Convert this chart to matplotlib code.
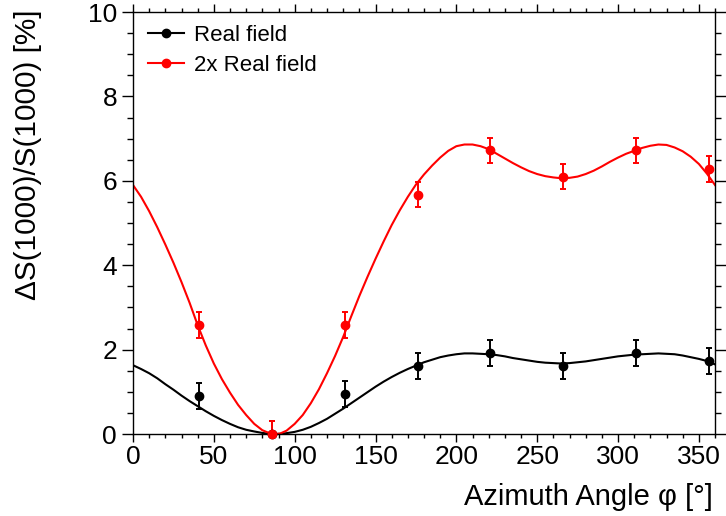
import numpy as np
import matplotlib
matplotlib.use('Agg')
import matplotlib.pyplot as plt
from matplotlib.lines import Line2D
from matplotlib.ticker import MultipleLocator

plt.rcParams['font.family'] = ['Liberation Sans', 'DejaVu Sans']

# measured points
phi_pts = [41, 86, 131, 176, 221, 266, 311, 356]
real_pts = [0.90, 0.00, 0.95, 1.61, 1.92, 1.61, 1.92, 1.73]
real_err = [0.30, 0.30, 0.30, 0.30, 0.30, 0.30, 0.30, 0.30]
dbl_pts = [2.58, 0.00, 2.58, 5.67, 6.72, 6.10, 6.72, 6.28]
dbl_err = [0.30, 0.30, 0.30, 0.30, 0.30, 0.30, 0.30, 0.30]

# fitted curves
phi_fit = [0, 5, 10, 15, 20, 25, 30, 35, 40, 45, 50, 55, 60, 65, 70, 75, 80, 85, 88,
           91, 95, 100, 105, 110, 115, 120, 125, 130, 135, 140, 145, 150, 155, 160,
           165, 170, 175, 180, 185, 190, 195, 200, 205, 210, 215, 220, 225, 230, 235,
           240, 245, 250, 255, 260, 265, 270, 275, 280, 285, 290, 295, 300, 305, 310,
           315, 320, 325, 330, 335, 340, 345, 350, 355, 360]
real_fit = [1.63, 1.54, 1.44, 1.32, 1.18, 1.05, 0.91, 0.78, 0.66, 0.54, 0.43, 0.33,
            0.24, 0.16, 0.10, 0.06, 0.025, 0.005, 0.0,
            0.005, 0.02, 0.05, 0.10, 0.17, 0.26, 0.36, 0.48, 0.60, 0.73, 0.86, 0.99,
            1.12, 1.24, 1.35, 1.45, 1.54, 1.62, 1.70, 1.76, 1.82, 1.86, 1.89, 1.91,
            1.91, 1.90, 1.89, 1.87, 1.84, 1.80, 1.77, 1.74, 1.71, 1.69, 1.68, 1.67,
            1.68, 1.70, 1.72, 1.75, 1.78, 1.81, 1.84, 1.86, 1.88, 1.89, 1.90, 1.91,
            1.90, 1.89, 1.86, 1.82, 1.78, 1.73, 1.65]
dbl_fit = [5.90, 5.62, 5.28, 4.90, 4.49, 4.06, 3.60, 3.11, 2.58, 2.10, 1.67, 1.30,
           0.98, 0.69, 0.45, 0.24, 0.09, 0.01, 0.0,
           0.01, 0.08, 0.24, 0.45, 0.73, 1.06, 1.44, 1.85, 2.30, 2.79, 3.27, 3.72,
           4.15, 4.56, 4.95, 5.30, 5.62, 5.91, 6.15, 6.36, 6.55, 6.71, 6.82, 6.86,
           6.86, 6.82, 6.75, 6.64, 6.53, 6.42, 6.32, 6.23, 6.16, 6.11, 6.08, 6.06,
           6.07, 6.10, 6.16, 6.24, 6.34, 6.45, 6.55, 6.64, 6.71, 6.78, 6.83, 6.86,
           6.85, 6.79, 6.70, 6.57, 6.40, 6.17, 5.90]

labels = ['Real field', '2x Real field']
colors = ['black', 'red']

fig = plt.figure(figsize=(7.26, 5.16), dpi=100)
ax = fig.add_axes([133/726, 1-434/516, 582/726, 422/516])

series = [(real_pts, real_err, real_fit), (dbl_pts, dbl_err, dbl_fit)]
for (pts, err, fit), c in zip(series, colors):
    ax.plot(phi_fit, fit, color=c, lw=1.5, zorder=2, solid_joinstyle='round')
    ax.errorbar(phi_pts, pts, yerr=err, fmt='none', ecolor=c, elinewidth=1.4,
                capsize=2.2, capthick=1.4, zorder=3)
    ax.plot(phi_pts, pts, 'o', color=c, ms=6, clip_on=False, zorder=4)

ax.set_xlim(0, 360)
ax.set_ylim(0, 10)
ax.xaxis.set_major_locator(MultipleLocator(50))
ax.xaxis.set_minor_locator(MultipleLocator(10))
ax.yaxis.set_major_locator(MultipleLocator(2))
ax.yaxis.set_minor_locator(MultipleLocator(0.5))

for s in ax.spines.values():
    s.set_linewidth(1.0)
ax.tick_params(axis='both', which='both', direction='out', top=True, right=True,
               width=1.0, labelsize=19)
ax.tick_params(axis='x', which='major', length=5.5, pad=2.5)
ax.tick_params(axis='x', which='minor', length=3)
ax.tick_params(axis='y', which='major', length=8, pad=3.5)
ax.tick_params(axis='y', which='minor', length=4.2)

fig.text(713/726, 1-505/516, 'Azimuth Angle φ [°]', ha='right', va='baseline', fontsize=21)
fig.text(28/726, 1-10/516, 'ΔS(1000)/S(1000) [%]', ha='center', va='top',
         rotation=90, fontsize=21.4)

handles = [Line2D([], [], color=c, lw=1.5, marker='o', ms=6) for c in colors]
ax.legend(handles, labels, loc='upper left', bbox_to_anchor=(0.026, 0.969),
          frameon=False, fontsize=16, handlelength=1.62, handletextpad=0.45,
          labelspacing=0.38, borderpad=0, borderaxespad=0)

fig.savefig('out.png', dpi=100)
